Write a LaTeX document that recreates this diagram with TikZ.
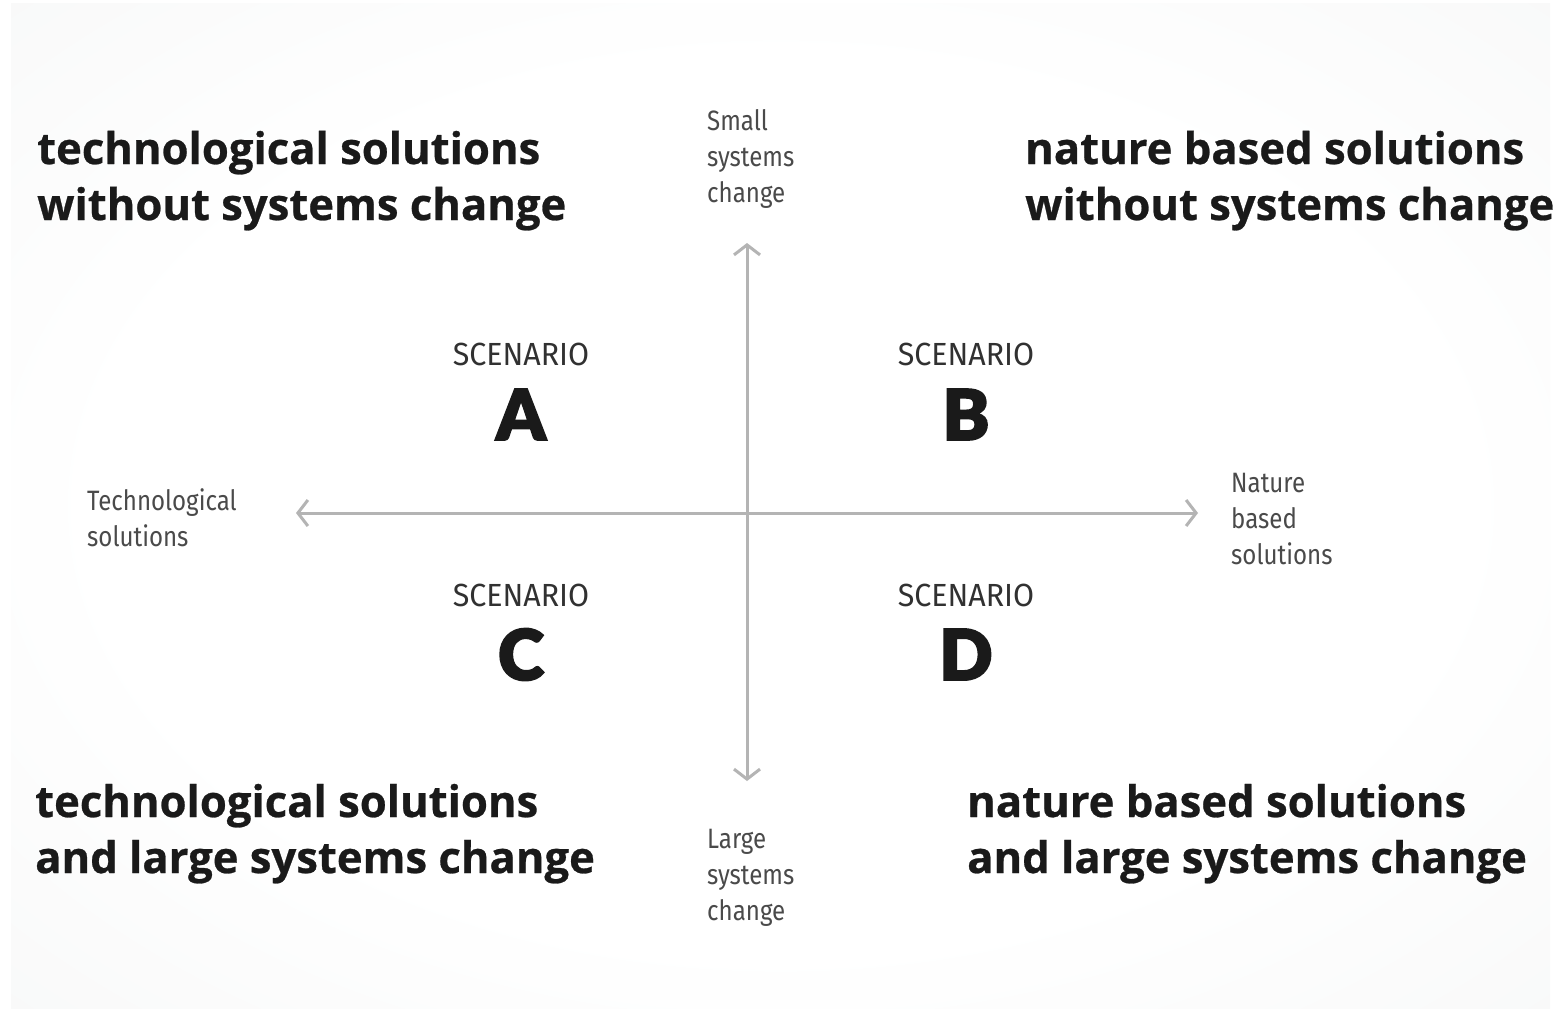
\documentclass[tikz,border=0pt]{standalone}
\usepackage{fontspec}
\setmainfont{Lato}
\newfontfamily\headfont{Open Sans}[UprightFont=* Bold, FakeBold=0.6]
\newfontfamily\heavyfont{Lato Black}[FakeBold=2.5]
\newfontfamily\labelfont{Fira Sans}[FakeStretch=0.86]
\newfontfamily\scenfont{Fira Sans}[FakeStretch=0.95]
\usetikzlibrary{arrows.meta}
\definecolor{bgedge}{HTML}{F2F3F3}
\definecolor{axisgray}{HTML}{B4B4B4}
\definecolor{labelgray}{HTML}{4A4A4A}
\definecolor{ink}{HTML}{1A1A1A}
\pgfdeclareradialshading{bgglow}{\pgfpoint{0bp}{0bp}}{color(0bp)=(white); color(22bp)=(white); color(50bp)=(bgedge); color(100bp)=(bgedge)}
\tikzset{
  heading/.style={font=\headfont\fontsize{43.6}{56}\selectfont, text=ink, align=left, inner sep=0pt, anchor=base west},
  axislabel/.style={font=\labelfont\fontsize{28}{36}\selectfont, text=labelgray, align=left, inner sep=0pt, anchor=base west},
  scen/.style={font=\scenfont\fontsize{32}{36}\selectfont, text=ink!90, inner sep=0pt, anchor=base},
  bigletter/.style={font=\heavyfont\fontsize{70}{80}\selectfont, text=ink, inner sep=0pt, anchor=base},
  axis/.style={draw=axisgray, line width=3pt, {Straight Barb[length=10pt,width=26pt,line width=3pt]}-{Straight Barb[length=10pt,width=26pt,line width=3pt]}}
}
\begin{document}
\begin{tikzpicture}[x=1pt,y=-1pt]
\useasboundingbox (0,0) rectangle (1557,1010);
\fill[white] (0,0) rectangle (1557,1010);
\shade[shading=bgglow] (11,3) rectangle (1550,1008);
% axes
\coordinate (L) at (296,513);
\coordinate (R) at (1198,513);
\coordinate (T) at (747,243);
\coordinate (B) at (747,781);
\draw[axis] (L) -- (R);
\draw[axis] (T) -- (B);
% axis labels (anchor at last line baseline)
\node[axislabel] (small) at (707,202) {Small\\systems\\change};
\node[axislabel] (large) at (707,920) {Large\\systems\\change};
\node[axislabel] (tech) at (87,546) {Technological\\solutions};
\node[axislabel] (nat) at (1231,564) {Nature\\based\\solutions};
% headings
\node[heading] (hA) at (37,220) {technological solutions\\without systems change};
\node[heading] (hB) at (1025,220) {nature based solutions\\without systems change};
\node[heading] (hC) at (35,873) {technological solutions\\and large systems change};
\node[heading] (hD) at (967,873) {nature based solutions\\and large systems change};
% scenarios
\node[scen] (sA) at (521,365) {SCENARIO};
\node[bigletter] (lA) at (521,440) {A};
\node[scen] (sB) at (966,365) {SCENARIO};
\node[bigletter] (lB) at (966,440) {B};
\node[scen] (sC) at (521,606) {SCENARIO};
\node[bigletter] (lC) at (521,680) {C};
\node[scen] (sD) at (966,606) {SCENARIO};
\node[bigletter] (lD) at (966,680) {D};
\end{tikzpicture}
\end{document}
